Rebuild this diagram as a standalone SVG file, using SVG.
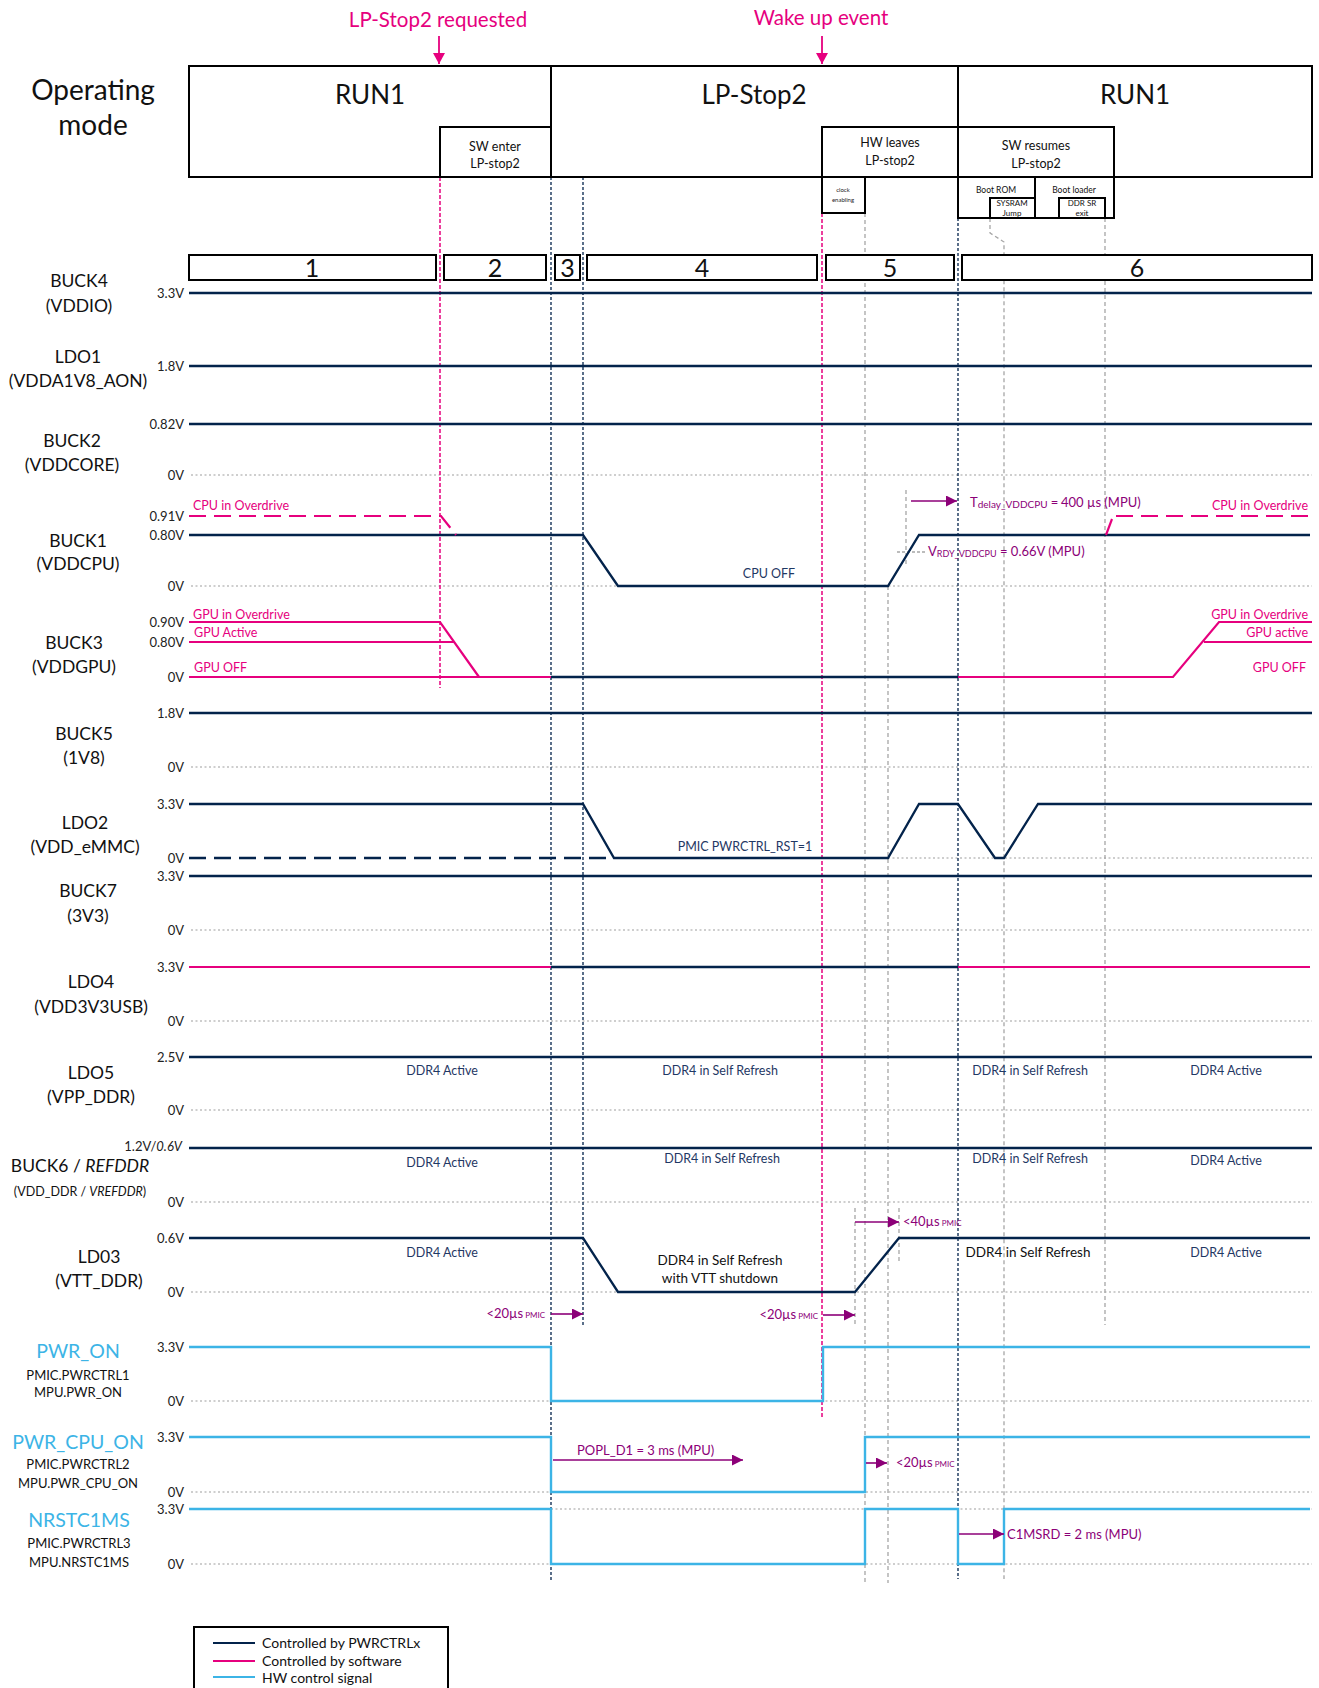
<svg xmlns="http://www.w3.org/2000/svg" width="1319" height="1688" viewBox="0 0 1319 1688">
<style>
text{font-family:Lato,"Open Sans","Liberation Sans",sans-serif}
.lbl{font-size:17.5px;fill:#111;text-anchor:middle}
.sm{font-size:13px;fill:#111;text-anchor:middle}
.v{font-size:13px;fill:#222;text-anchor:end}
.cyt{font-size:19.5px;fill:#3CB4E6;text-anchor:middle}
.pkt{font-size:12.5px;fill:#E6007E}
.ddr{font-size:12.5px;fill:#1F3864;text-anchor:middle}
.blk{font-size:13.5px;fill:#111;text-anchor:middle}
.ann{fill:#8C0078;font-size:13px}
.nv{stroke:#03234B;stroke-width:2.3;fill:none}
.pk{stroke:#E6007E;stroke-width:2.2;fill:none}
.cy{stroke:#3CB4E6;stroke-width:2.4;fill:none}
.grid{stroke:#BFBFBF;stroke-width:1.5;stroke-dasharray:2 2.5;fill:none}
.vg{stroke:#A6A6A6;stroke-width:1.3;stroke-dasharray:4 3;fill:none}
.vn{stroke:#03234B;stroke-width:1.3;stroke-dasharray:3 2;fill:none}
.vp{stroke:#E6007E;stroke-width:1.5;stroke-dasharray:4 2;fill:none}
.box{fill:#fff;stroke:#000;stroke-width:2}
.arr{stroke:#8C0078;stroke-width:1.6;fill:none;marker-end:url(#ah)}
</style>
<defs>
<marker id="ah" markerUnits="userSpaceOnUse" markerWidth="11" markerHeight="11" refX="11" refY="5.5" orient="auto"><path d="M0,0 L11,5.5 L0,11 z" fill="#8C0078"/></marker>
<marker id="ahp" markerUnits="userSpaceOnUse" markerWidth="11" markerHeight="12" refX="11" refY="6" orient="auto"><path d="M0,0 L11,6 L0,12 z" fill="#E6007E"/></marker>
</defs>
<rect width="1319" height="1688" fill="#fff"/>

<g id="events">
<text x="438" y="27" style="font-size:20.5px;fill:#E6007E;text-anchor:middle">LP-Stop2 requested</text>
<line x1="439" y1="36" x2="439" y2="64" stroke="#E6007E" stroke-width="1.8" marker-end="url(#ahp)"/>
<text x="821" y="25" style="font-size:20.5px;fill:#E6007E;text-anchor:middle">Wake up event</text>
<line x1="822" y1="36" x2="822" y2="64" stroke="#E6007E" stroke-width="1.8" marker-end="url(#ahp)"/>
</g>

<g id="grid">
<path class="grid" d="M191 475H1312M191 586H1312M191 767H1312M888 858H1312M191 930H1312M191 1021H1312M191 1110H1312M191 1202H1312M191 1292H1312M191 1401H1312M191 1492H1312M551 1509H1312M191 1564H1312"/>
</g>

<g id="markers">
<line class="vp" x1="440" y1="177" x2="440" y2="688"/>
<line class="vp" x1="822" y1="213" x2="822" y2="1418"/>
<line class="vn" x1="551" y1="177" x2="551" y2="1580"/>
<line class="vn" x1="583" y1="177" x2="583" y2="1327"/>
<line class="vn" x1="958" y1="218" x2="958" y2="1579"/>
<line class="vg" x1="865" y1="213" x2="865" y2="1583"/>
<line class="vg" x1="888" y1="586" x2="888" y2="1583"/>
<line class="vg" x1="906" y1="490" x2="906" y2="565"/>
<path class="vg" d="M990 218V233L1004 242V1579"/>
<line class="vg" x1="1105" y1="218" x2="1105" y2="1325"/>
<line class="vg" x1="855" y1="1208" x2="855" y2="1327"/>
<line class="vg" x1="899" y1="1208" x2="899" y2="1263"/>
<line x1="897" y1="552" x2="925" y2="552" stroke="#A6A6A6" stroke-width="1.3" stroke-dasharray="3 2"/>
</g>

<g id="mode-bar">
<rect class="box" x="189" y="66" width="1123" height="111"/>
<line x1="551" y1="66" x2="551" y2="177" stroke="#000" stroke-width="2"/>
<line x1="958" y1="66" x2="958" y2="177" stroke="#000" stroke-width="2"/>
<text x="93" y="100" style="font-size:28px;fill:#111;text-anchor:middle">Operating</text>
<text x="93" y="135" style="font-size:28px;fill:#111;text-anchor:middle">mode</text>
<text x="370" y="104" style="font-size:26px;fill:#111;text-anchor:middle">RUN1</text>
<text x="754" y="104" style="font-size:26px;fill:#111;text-anchor:middle">LP-Stop2</text>
<text x="1135" y="104" style="font-size:26px;fill:#111;text-anchor:middle">RUN1</text>
<g id="sw-enter"><rect class="box" x="440" y="127" width="111" height="50"/>
<text x="495" y="151" style="font-size:12.5px;fill:#111;text-anchor:middle">SW enter</text>
<text x="495" y="168" style="font-size:12.5px;fill:#111;text-anchor:middle">LP-stop2</text></g>
<g id="hw-leaves"><rect class="box" x="822" y="127" width="136" height="50"/>
<text x="890" y="147" style="font-size:12.5px;fill:#111;text-anchor:middle">HW leaves</text>
<text x="890" y="165" style="font-size:12.5px;fill:#111;text-anchor:middle">LP-stop2</text></g>
<g id="sw-resumes"><rect class="box" x="958" y="127" width="156" height="50"/>
<text x="1036" y="150" style="font-size:12.5px;fill:#111;text-anchor:middle">SW resumes</text>
<text x="1036" y="168" style="font-size:12.5px;fill:#111;text-anchor:middle">LP-stop2</text></g>
<g id="clock-enabling"><rect class="box" x="822" y="177" width="43" height="36"/>
<text x="843" y="192" style="font-size:6px;fill:#222;text-anchor:middle">clock</text>
<text x="843" y="202" style="font-size:6px;fill:#222;text-anchor:middle">enabling</text></g>
<g id="boot"><rect class="box" x="958" y="177" width="156" height="41"/>
<line x1="1035" y1="177" x2="1035" y2="218" stroke="#000" stroke-width="2"/>
<text x="996" y="193" style="font-size:8.5px;fill:#111;text-anchor:middle">Boot ROM</text>
<text x="1074" y="193" style="font-size:8.5px;fill:#111;text-anchor:middle">Boot loader</text>
<rect class="box" x="990" y="198" width="45" height="20"/>
<text x="1012" y="206" style="font-size:8px;fill:#111;text-anchor:middle">SYSRAM</text>
<text x="1012" y="215.5" style="font-size:8px;fill:#111;text-anchor:middle">Jump</text>
<rect class="box" x="1059" y="198" width="46" height="20"/>
<text x="1082" y="206" style="font-size:8px;fill:#111;text-anchor:middle">DDR SR</text>
<text x="1082" y="215.5" style="font-size:8px;fill:#111;text-anchor:middle">exit</text></g>
</g>

<g id="phases" style="font-size:25px;fill:#111;text-anchor:middle">
<rect class="box" x="189" y="255" width="247" height="25"/><text x="312" y="277">1</text>
<rect class="box" x="444" y="255" width="102" height="25"/><text x="495" y="277">2</text>
<rect class="box" x="555" y="255" width="25" height="25"/><text x="567.5" y="277">3</text>
<rect class="box" x="587" y="255" width="230" height="25"/><text x="702" y="277">4</text>
<rect class="box" x="826" y="255" width="128" height="25"/><text x="890" y="277">5</text>
<rect class="box" x="962" y="255" width="350" height="25"/><text x="1137" y="277">6</text>
</g>

<g id="rail-labels">
<text class="lbl" x="79" y="287">BUCK4</text><text class="lbl" x="79" y="312">(VDDIO)</text>
<text class="lbl" x="78" y="363">LDO1</text><text class="lbl" x="78" y="387">(VDDA1V8_AON)</text>
<text class="lbl" x="72" y="447">BUCK2</text><text class="lbl" x="72" y="471">(VDDCORE)</text>
<text class="lbl" x="78" y="547">BUCK1</text><text class="lbl" x="78" y="570">(VDDCPU)</text>
<text class="lbl" x="74" y="649">BUCK3</text><text class="lbl" x="74" y="673">(VDDGPU)</text>
<text class="lbl" x="84" y="740">BUCK5</text><text class="lbl" x="84" y="764">(1V8)</text>
<text class="lbl" x="85" y="829">LDO2</text><text class="lbl" x="85" y="853">(VDD_eMMC)</text>
<text class="lbl" x="88" y="897">BUCK7</text><text class="lbl" x="88" y="922">(3V3)</text>
<text class="lbl" x="91" y="988">LDO4</text><text class="lbl" x="91" y="1013">(VDD3V3USB)</text>
<text class="lbl" x="91" y="1079">LDO5</text><text class="lbl" x="91" y="1103">(VPP_DDR)</text>
<text class="lbl" x="80" y="1172">BUCK6 / <tspan font-style="italic">REFDDR</tspan></text>
<text x="80" y="1196" style="font-size:12.5px;fill:#111;text-anchor:middle">(VDD_DDR / <tspan font-style="italic">VREFDDR</tspan>)</text>
<text class="lbl" x="99" y="1263">LD03</text><text class="lbl" x="99" y="1287">(VTT_DDR)</text>
<text class="cyt" x="78" y="1358">PWR_ON</text>
<text class="sm" x="78" y="1380">PMIC.PWRCTRL1</text><text class="sm" x="78" y="1397">MPU.PWR_ON</text>
<text class="cyt" x="78" y="1449">PWR_CPU_ON</text>
<text class="sm" x="78" y="1469">PMIC.PWRCTRL2</text><text class="sm" x="78" y="1488">MPU.PWR_CPU_ON</text>
<text class="cyt" x="79" y="1527">NRSTC1MS</text>
<text class="sm" x="79" y="1548">PMIC.PWRCTRL3</text><text class="sm" x="79" y="1567">MPU.NRSTC1MS</text>
</g>

<g id="volt-labels">
<text class="v" x="184" y="298">3.3V</text>
<text class="v" x="184" y="371">1.8V</text>
<text class="v" x="184" y="429">0.82V</text>
<text class="v" x="184" y="480">0V</text>
<text class="v" x="184" y="521">0.91V</text>
<text class="v" x="184" y="540">0.80V</text>
<text class="v" x="184" y="591">0V</text>
<text class="v" x="184" y="627">0.90V</text>
<text class="v" x="184" y="647">0.80V</text>
<text class="v" x="184" y="682">0V</text>
<text class="v" x="184" y="718">1.8V</text>
<text class="v" x="184" y="772">0V</text>
<text class="v" x="184" y="809">3.3V</text>
<text class="v" x="184" y="863">0V</text>
<text class="v" x="184" y="881">3.3V</text>
<text class="v" x="184" y="935">0V</text>
<text class="v" x="184" y="972">3.3V</text>
<text class="v" x="184" y="1026">0V</text>
<text class="v" x="184" y="1062">2.5V</text>
<text class="v" x="184" y="1115">0V</text>
<text class="v" x="182" y="1151">1.2V/<tspan font-style="italic">0.6V</tspan></text>
<text class="v" x="184" y="1207">0V</text>
<text class="v" x="184" y="1243">0.6V</text>
<text class="v" x="184" y="1297">0V</text>
<text class="v" x="184" y="1352">3.3V</text>
<text class="v" x="184" y="1406">0V</text>
<text class="v" x="184" y="1442">3.3V</text>
<text class="v" x="184" y="1497">0V</text>
<text class="v" x="184" y="1514">3.3V</text>
<text class="v" x="184" y="1569">0V</text>
</g>

<g id="waveforms">
<path class="nv" d="M189 293H1312"/>
<path class="nv" d="M189 366H1312"/>
<path class="nv" d="M189 424H1312"/>
<path class="nv" d="M189 535H583L618 586H888L919 535H1310"/>
<path class="pk" d="M189 516H441L456 535" stroke-dasharray="17 8"/>
<path class="pk" d="M1106 535L1112 519"/>
<path class="pk" d="M1116 516H1312" stroke-dasharray="17 8"/>
<path class="pk" d="M189 622H440L479 677"/>
<path class="pk" d="M189 642H454"/>
<path class="pk" d="M189 677H551"/>
<path class="nv" d="M551 677H958"/>
<path class="pk" d="M958 677H1173L1219 622H1312"/>
<path class="pk" d="M1204 642H1312"/>
<path class="nv" d="M189 713H1312"/>
<path class="nv" d="M189 804H583L614 858H888L919 804H958L995 858H1004L1038 804H1312"/>
<path class="nv" d="M189 858H608" stroke-dasharray="17 8"/>
<path class="nv" d="M189 876H1312"/>
<path class="pk" d="M189 967H551"/>
<path class="nv" d="M551 967H958"/>
<path class="pk" d="M958 967H1310"/>
<path class="nv" d="M189 1057H1312"/>
<path class="nv" d="M189 1148H1312"/>
<path class="nv" d="M189 1238H583L618 1292H855L899 1238H1310"/>
<path class="cy" d="M189 1347H551V1401H823V1347H1310"/>
<path class="cy" d="M189 1437H551V1492H865V1437H1310"/>
<path class="cy" d="M189 1509H551V1564H865V1509H958V1564H1004V1509H1310"/>
</g>

<g id="state-texts">
<text class="pkt" x="193" y="510">CPU in Overdrive</text>
<text class="pkt" x="1308" y="510" text-anchor="end">CPU in Overdrive</text>
<text class="ddr" x="769" y="578">CPU OFF</text>
<text class="pkt" x="193" y="619">GPU in Overdrive</text>
<text class="pkt" x="194" y="637">GPU Active</text>
<text class="pkt" x="194" y="672">GPU OFF</text>
<text class="pkt" x="1308" y="619" text-anchor="end">GPU in Overdrive</text>
<text class="pkt" x="1308" y="637" text-anchor="end">GPU active</text>
<text class="pkt" x="1306" y="672" text-anchor="end">GPU OFF</text>
<text class="ddr" x="745" y="851">PMIC PWRCTRL_RST=1</text>
<text class="ddr" x="442" y="1075">DDR4 Active</text>
<text class="ddr" x="720" y="1075">DDR4 in Self Refresh</text>
<text class="ddr" x="1030" y="1075">DDR4 in Self Refresh</text>
<text class="ddr" x="1226" y="1075">DDR4 Active</text>
<text class="ddr" x="442" y="1167">DDR4 Active</text>
<text class="ddr" x="722" y="1163">DDR4 in Self Refresh</text>
<text class="ddr" x="1030" y="1163">DDR4 in Self Refresh</text>
<text class="ddr" x="1226" y="1165">DDR4 Active</text>
<text class="ddr" x="442" y="1257">DDR4 Active</text>
<text class="blk" x="720" y="1265">DDR4 in Self Refresh</text>
<text class="blk" x="720" y="1283">with VTT shutdown</text>
<text class="blk" x="1028" y="1257">DDR4 in Self Refresh</text>
<text class="ddr" x="1226" y="1257">DDR4 Active</text>
</g>

<g id="timing-annotations">
<line class="arr" x1="911" y1="501" x2="957" y2="501"/>
<text class="ann" x="970" y="507" font-size="14">T<tspan font-size="10" dy="1">delay_VDDCPU</tspan><tspan dy="-1"> =</tspan></text>
<text class="ann" x="1061" y="507" font-size="14">400 µs (MPU)</text>
<text class="ann" x="928" y="556">V<tspan font-size="9" dy="1">RDY_VDDCPU</tspan><tspan dy="-1" x="1000">= 0.66V (MPU)</tspan></text>
<line class="arr" x1="855" y1="1222" x2="899" y2="1222"/>
<text class="ann" x="903" y="1226">&lt;40µs<tspan font-size="8"> PMIC</tspan></text>
<text class="ann" x="545" y="1318" text-anchor="end">&lt;20µs<tspan font-size="8"> PMIC</tspan></text>
<line class="arr" x1="551" y1="1314" x2="583" y2="1314"/>
<text class="ann" x="818" y="1319" text-anchor="end">&lt;20µs<tspan font-size="8"> PMIC</tspan></text>
<line class="arr" x1="823" y1="1315" x2="855" y2="1315"/>
<line class="arr" x1="553" y1="1460" x2="743" y2="1460"/>
<text class="ann" x="577" y="1455" font-size="12.5">POPL_D1 = 3 ms (MPU)</text>
<line class="arr" x1="866" y1="1463" x2="887" y2="1463"/>
<text class="ann" x="896" y="1467">&lt;20µs<tspan font-size="8"> PMIC</tspan></text>
<line class="arr" x1="959" y1="1534" x2="1004" y2="1534"/>
<text class="ann" x="1007" y="1539" font-size="12.5">C1MSRD = 2 ms (MPU)</text>
</g>

<g id="legend">
<rect x="194" y="1627" width="254" height="70" fill="#fff" stroke="#000" stroke-width="2"/>
<line x1="213" y1="1643" x2="255" y2="1643" stroke="#03234B" stroke-width="2"/>
<line x1="213" y1="1661" x2="255" y2="1661" stroke="#E6007E" stroke-width="2"/>
<line x1="213" y1="1677" x2="255" y2="1677" stroke="#3CB4E6" stroke-width="2"/>
<text x="262" y="1648" style="font-size:14px;fill:#111">Controlled by PWRCTRLx</text>
<text x="262" y="1666" style="font-size:14px;fill:#111">Controlled by software</text>
<text x="262" y="1683" style="font-size:14px;fill:#111">HW control signal</text>
</g>
</svg>
